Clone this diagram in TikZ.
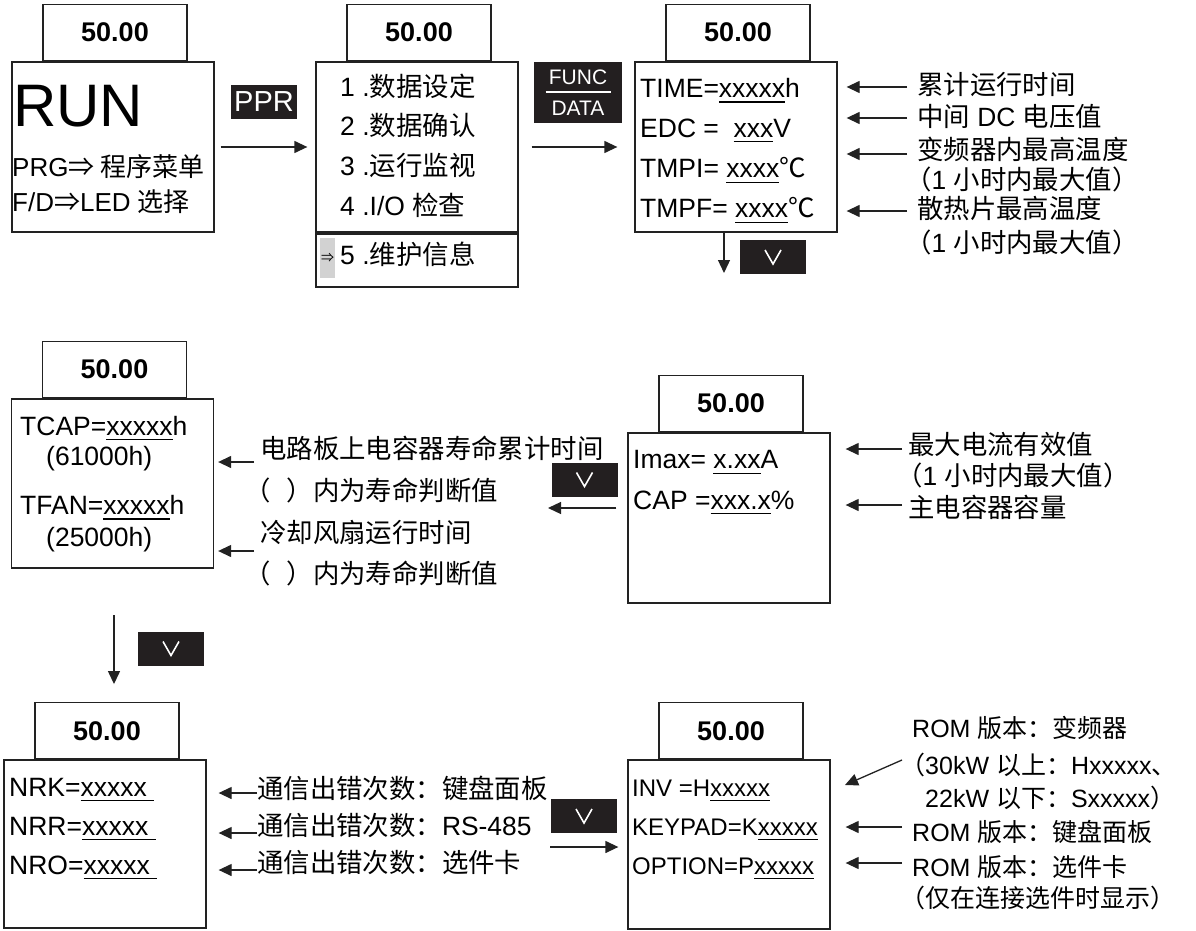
\documentclass[tikz,border=0pt]{standalone}
\usepackage{fontspec}
\setmainfont{Liberation Sans}
\newfontfamily\cjk{Noto Sans CJK SC}
\usepackage{tikz}
\usetikzlibrary{arrows.meta,positioning}
\definecolor{ink}{HTML}{222222}
\definecolor{keyfill}{HTML}{231f20}
\definecolor{selgray}{HTML}{d2d2d2}
\newcommand{\zh}[1]{{\cjk #1}}
\newcommand{\fs}[1]{\fontsize{#1}{#1}\selectfont}
\newcommand{\ux}[1]{\sbox0{#1}\rlap{\smash{\rule[-5pt]{\wd0}{1.2pt}}}\usebox0}

\begin{document}
\begin{tikzpicture}[
  x=1pt, y=-1pt,
  panel/.style={draw=ink, line width=1.3pt, minimum width=202pt, minimum height=170pt, inner sep=0pt},
  disp/.style={draw=ink, line width=1.3pt, minimum width=144pt, minimum height=56pt, inner sep=0pt, anchor=south west, font=\fs{27}\bfseries},
  key/.style={fill=keyfill, text=white, inner sep=0pt},
  vkey/.style={key, minimum width=66pt, minimum height=34pt},
  val/.style={anchor=west, inner sep=0pt, font=\fs{26.5}},
  lab/.style={anchor=west, inner sep=0pt, font=\fs{26.4}},
  flow/.style={-{Triangle[length=13pt,width=12pt]}, line width=1.3pt, draw=ink},
]
\path[use as bounding box, fill=white] (0,0) rectangle (1196,931);
% run screen
\node[panel] (b1) at (113,147) {};
\node[disp] (b1d) at ([xshift=31pt]b1.north west) {50.00};
\node[val, font=\fs{60}] (run) at (13,106) {RUN};
\node[val, font=\fs{26}] (prg) at (12,167) {PRG\zh{⇒ 程序菜单}};
\node[val, font=\fs{26}] (fdsel) at (12,202) {F/D\zh{⇒}LED \zh{选择}};
% menu screen
\node[panel] (b2) at (417,147) {};
\node[disp] (b2d) at ([xshift=31pt]b2.north west) {50.00};
\node[panel, minimum height=53pt] (b2s) at (417,260.5) {};
\node[val] (m1) at (340,86) {1 .\zh{数据设定}};
\node[val] (m2) at (340,125) {2 .\zh{数据确认}};
\node[val] (m3) at (340,165) {3 .\zh{运行监视}};
\node[val] (m4) at (340,205) {4 .I/O \zh{检查}};
\node[fill=selgray, minimum width=15pt, minimum height=40pt, inner sep=0pt, font=\fs{13}] (sel) at (327.5,258) {\zh{⇒}};
\node[val] (m5) at (340,254) {5 .\zh{维护信息}};
% monitor screen
\node[panel] (b3) at (736,147) {};
\node[disp] (b3d) at ([xshift=31pt]b3.north west) {50.00};
\node[val] (v31) at (640,88) {TIME=\ux{xxxxx}h};
\node[val] (v32) at (640,128) {EDC = \ \ux{xxx}V};
\node[val] (v33) at (640,168) {TMPI= \ux{xxxx}\zh{℃}};
\node[val] (v34) at (640,208) {TMPF= \ux{xxxx}\zh{℃}};
% keys of row 1
\node[key, minimum width=66pt, minimum height=34pt, font=\fs{29}] (kppr) at (264,102) {PPR};
\node[key, minimum width=88pt, minimum height=61pt, font=\fs{21}, align=center] (kfd) at (578,92.5) {FUNC\\[-13pt]\rule{65pt}{1.2pt}\\[1.5pt]DATA};
\draw[flow, shorten <=6pt, shorten >=8pt] (b1) -- (b2);
\draw[flow, shorten <=13pt, shorten >=17pt] (b2) -- (b3);
\coordinate (d3) at (724,273);
\draw[flow] (d3 |- b3.south) -- (d3);
\node[vkey] (k3) at (773,257) {};
\node[lab] (l31) at (917,85) {\zh{累计运行时间}};
\node[lab] (l32) at (917,116) {\zh{中间} DC \zh{电压值}};
\node[lab] (l33) at (917,149) {\zh{变频器内最高温度}};
\node[lab] (l34) at (905,179) {\zh{（}1 \zh{小时内最大值）}};
\node[lab] (l35) at (917,208) {\zh{散热片最高温度}};
\node[lab] (l36) at (905,242) {\zh{（}1 \zh{小时内最大值）}};
\foreach \i/\yy in {31/87,32/118,33/154,35/211} {
  \coordinate (t\i) at (907,\yy);
  \draw[flow, shorten >=9pt] (t\i) -- (t\i -| b3.east);
}
% maintenance screen 1
\node[panel, minimum height=169pt] (b4) at (112.5,483.5) {};
\node[disp] (b4d) at ([xshift=31pt]b4.north west) {50.00};
\node[val] (v41) at (20,426) {TCAP=\ux{xxxxx}h};
\node[val] (v42) at (46,459) {(61000h)};
\node[val] (v43) at (20,505) {TFAN=\ux{xxxxx}h};
\node[val] (v44) at (46,540) {(25000h)};
\node[lab] (l41) at (260,448) {\zh{电路板上电容器寿命累计时间}};
\node[lab] (l42) at (260,490) {\zh{\kern-16pt（\kern16pt）内为寿命判断值}};
\node[lab] (l43) at (260,532) {\zh{冷却风扇运行时间}};
\node[lab] (l44) at (260,573) {\zh{\kern-16pt（\kern16pt）内为寿命判断值}};
\foreach \i/\yy in {41/462,43/551} {
  \coordinate (t\i) at (254,\yy);
  \draw[flow, shorten >=4pt] (t\i) -- (t\i -| b4.east);
}
% maintenance screen 2
\node[panel] (b5) at (729,518) {};
\node[disp] (b5d) at ([xshift=31pt]b5.north west) {50.00};
\node[val] (v51) at (633,460) {Imax= \ux{x.xx}A};
\node[val] (v52) at (633,500) {CAP =\ux{xxx.x}\%};
\node[lab] (l51) at (908,444) {\zh{最大电流有效值}};
\node[lab] (l52) at (896,475) {\zh{（}1 \zh{小时内最大值）}};
\node[lab] (l53) at (908,507) {\zh{主电容器容量}};
\foreach \i/\yy in {51/449,53/505} {
  \coordinate (t\i) at (902,\yy);
  \draw[flow, shorten >=15pt] (t\i) -- (t\i -| b5.east);
}
\node[vkey] (k5) at (584.5,479.5) {};
\coordinate (e5) at (548,508);
\draw[flow, shorten <=11pt] (e5 -| b5.west) -- (e5);
% maintenance screen 3
\node[panel, minimum height=168pt] (b6) at (105,844) {};
\node[disp] (b6d) at ([xshift=31pt]b6.north west) {50.00};
\node[val] (v61) at (9,787) {NRK=\ux{xxxxx\ }};
\node[val] (v62) at (9,826) {NRR=\ux{xxxxx\ }};
\node[val] (v63) at (9,865) {NRO=\ux{xxxxx\ }};
\coordinate (s6) at (114,615);
\draw[flow, shorten >=18pt] (s6) -- (s6 |- b6d.north);
\node[vkey] (k4) at (171,648.5) {};
\node[lab] (l61) at (257,788) {\zh{通信出错次数：键盘面板}};
\node[lab] (l62) at (257,825) {\zh{通信出错次数：}RS-485};
\node[lab] (l63) at (257,862) {\zh{通信出错次数：选件卡}};
\foreach \i/\yy in {61/793,62/833,63/870} {
  \coordinate (t\i) at (257,\yy);
  \draw[flow, shorten >=12pt] (t\i) -- (t\i -| b6.east);
}
% maintenance screen 4
\node[panel, minimum height=169pt] (b7) at (729,844.5) {};
\node[disp] (b7d) at ([xshift=31pt]b7.north west) {50.00};
\node[val, font=\fs{24}] (v71) at (632,788) {INV =H\ux{xxxxx}};
\node[val, font=\fs{24}] (v72) at (632,827) {KEYPAD=K\ux{xxxxx}};
\node[val, font=\fs{24}] (v73) at (632,866) {OPTION=P\ux{xxxxx}};
\node[vkey] (k6) at (584,816) {};
\coordinate (s7) at (550,847);
\draw[flow, shorten >=9pt] (s7) -- (s7 -| b7.west);
\node[lab, font=\fs{25}] (l71) at (912,728) {ROM \zh{版本：变频器}};
\node[lab, font=\fs{25}] (l72) at (900,765) {\zh{（}30kW \zh{以上：}Hxxxxx\zh{、}};
\node[lab, font=\fs{25}] (l73) at (925,798) {22kW \zh{以下：}Sxxxxx\zh{）}};
\node[lab, font=\fs{25}] (l74) at (912,832) {ROM \zh{版本：键盘面板}};
\node[lab, font=\fs{25}] (l75) at (912,867) {ROM \zh{版本：选件卡}};
\node[lab, font=\fs{25}] (l76) at (900,898) {\zh{（仅在连接选件时显示）}};
\coordinate (t71) at (902,760);
\coordinate (h71) at (845,785);
\draw[flow] (t71) -- (h71);
\foreach \i/\yy in {74/827,75/863} {
  \coordinate (t\i) at (902,\yy);
  \draw[flow, shorten >=15pt] (t\i) -- (t\i -| b7.east);
}
% down marks on the keys
\foreach \k in {k3,k4,k5,k6}
  \draw[white, line width=1.6pt] ([shift={(-8pt,7pt)}]\k.center) -- ([yshift=-7pt]\k.center) -- ([shift={(8pt,7pt)}]\k.center);
\end{tikzpicture}
\end{document}
